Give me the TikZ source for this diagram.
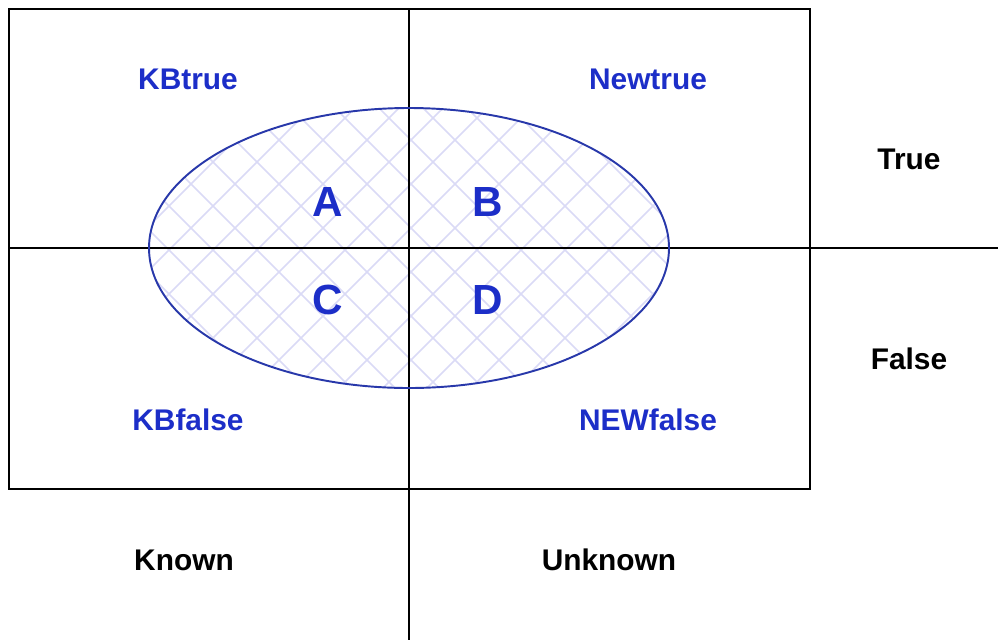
\documentclass[tikz,border=0pt]{standalone}
\usepackage{fontspec}
\setmainfont{Liberation Sans}
\begin{document}
\begin{tikzpicture}[x=0.02cm, y=-0.02cm,
      region/.style={text=regionblue, font=\bfseries\fontsize{17}{20}\selectfont},
      letter/.style={text=regionblue, font=\bfseries\fontsize{24}{28}\selectfont},
      axis/.style={text=black, font=\bfseries\fontsize{17}{20}\selectfont},
      grid line/.style={draw=black, line width=1.1pt}]
      \definecolor{regionblue}{RGB}{28,46,200}
      \definecolor{edgeblue}{RGB}{40,56,170}
      \definecolor{hatchblue}{RGB}{218,218,246}
      \useasboundingbox (0,0) rectangle (998,640);
      % hatched ellipse
      \begin{scope}
        \clip (409,248) ellipse [x radius=260, y radius=140];
        \foreach \c in {-343,-299,...,720} {
          \draw[hatchblue, line width=0.9pt] (\c,90) -- (\c+320,410);
          \draw[hatchblue, line width=0.9pt] (\c+320,90) -- (\c,410);
        }
      \end{scope}
      % frame and axes
      \draw[grid line] (9,9) rectangle (810,489);
      \coordinate (top) at (409,9);
      \coordinate (bottom) at (409,640);
      \coordinate (left) at (9,248);
      \coordinate (right) at (998,248);
      \draw[grid line] (top) -- (bottom);
      \draw[grid line] (left) -- (right);
      \draw[edgeblue, line width=1.1pt] (409,248) ellipse [x radius=260, y radius=140];
      % labels
      \node (kbtrue) [region] at (188,79) {KBtrue};
      \node (newtrue) [region] at (648,79) {Newtrue};
      \node (kbfalse) [region] at (188,420) {KBfalse};
      \node (newfalse) [region] at (648,420) {NEWfalse};
      \node (a) [letter] at (328,202) {A};
      \node (b) [letter] at (488,202) {B};
      \node (c) [letter] at (328,300) {C};
      \node (d) [letter] at (488,300) {D};
      \node (true) [axis] at (909,159) {True};
      \node (false) [axis] at (909,359) {False};
      \node (known) [axis] at (184,560) {Known};
      \node (unknown) [axis] at (609,560) {Unknown};
    \end{tikzpicture}
\end{document}
